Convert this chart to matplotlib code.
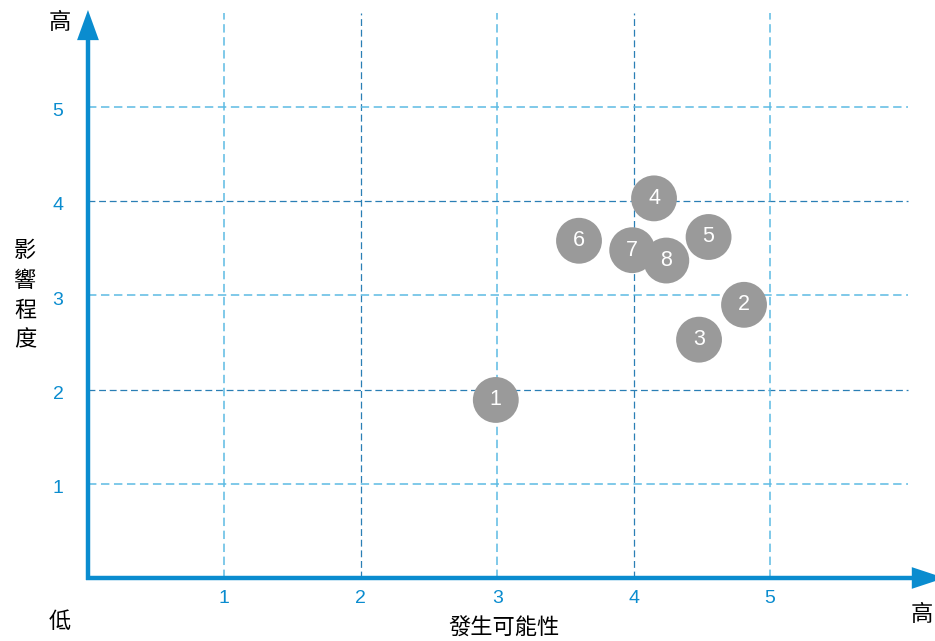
import matplotlib
matplotlib.use("Agg")
import matplotlib.pyplot as plt

plt.rcParams['font.family'] = ['Noto Sans CJK TC', 'DejaVu Sans']

# risk items: likelihood (x), impact (y)
risk_ids = ["1", "2", "3", "4", "5", "6", "7", "8"]
likelihood = [2.99, 4.81, 4.48, 4.15, 4.55, 3.60, 3.99, 4.24]
impact = [1.89, 2.90, 2.53, 4.03, 3.62, 3.58, 3.48, 3.37]

ticks = [1, 2, 3, 4, 5]
x_title = "發生可能性"
y_title = "影響程度"
low_label = "低"
high_label = "高"

axis_blue = '#0a8ccf'
light_grid = '#5dbbe3'
dark_grid = '#2a7fb5'

fig = plt.figure(figsize=(9.35, 6.41), dpi=100)
ax = fig.add_axes([0, 0, 1, 1])
ax.set_xlim(-0.645, 6.21)
ax.set_ylim(-0.669, 6.136)
ax.axis('off')

# grid
for t in ticks:
    c = light_grid if t % 2 else dark_grid
    lw = 1.1 if t % 2 else 0.9
    ax.plot([t, t], [0, 6.0], color=c, lw=lw, ls=(0, (5.5, 3)), zorder=1)
    ax.plot([0, 6.01], [t, t], color=c, lw=lw, ls=(0, (5.5, 3)), zorder=1)

# axes with arrows
ax.plot([0, 0], [-0.02, 5.75], color=axis_blue, lw=3.2, zorder=2, solid_capstyle='butt')
ax.plot([-0.012, 6.05], [0, 0], color=axis_blue, lw=3.2, zorder=2, solid_capstyle='butt')
ax.fill([-0.08, 0.08, 0], [5.71, 5.71, 6.03], color=axis_blue, zorder=2, lw=0)
ax.fill([6.04, 6.04, 6.28], [-0.115, 0.115, 0], color=axis_blue, zorder=2, lw=0)

# tick labels
for t in ticks:
    ax.text(t, -0.22, str(t), color=axis_blue, fontsize=14, ha='center', va='center',
            family=['Liberation Sans', 'DejaVu Sans'])
    ax.text(-0.22, t - 0.05, str(t), color=axis_blue, fontsize=14, ha='center', va='center',
            family=['Liberation Sans', 'DejaVu Sans'])

# bubbles
ax.scatter(likelihood, impact, s=1090, color='#9a9a9a', edgecolors='none', zorder=3)
for rid, x, y in zip(risk_ids, likelihood, impact):
    ax.text(x, y, rid, color='white', fontsize=15.5, ha='center', va='center', zorder=4,
            family=['Liberation Sans', 'DejaVu Sans'])

# titles
ax.text(-0.205, 5.9, high_label, fontsize=16, ha='center', va='center')
ax.text(-0.205, -0.467, low_label, fontsize=16, ha='center', va='center')
ax.text(6.11, -0.39, high_label, fontsize=16, ha='center', va='center')
ax.text(3.05, -0.53, x_title, fontsize=16, ha='center', va='center')
ax.text(-0.46, 3.0, "\n".join(y_title), fontsize=16, ha='center', va='center', linespacing=1.38)

fig.savefig("out.png", dpi=100)
